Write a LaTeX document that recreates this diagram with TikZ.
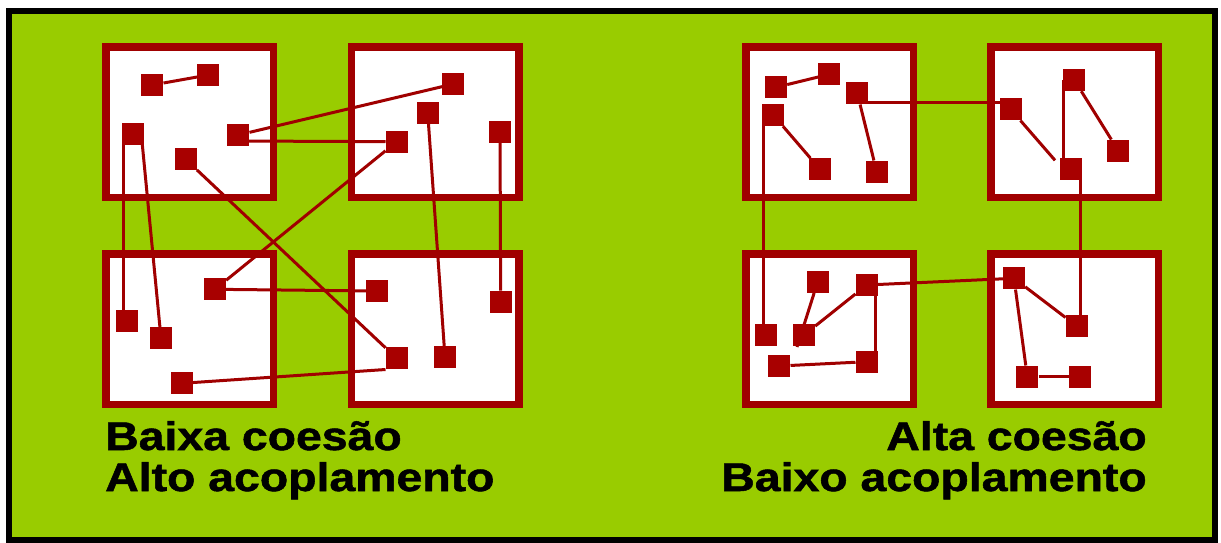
\documentclass[tikz,border=0pt]{standalone}
\usepackage{fontspec}
\setmainfont{Liberation Sans}
\newfontfamily\heavyfont{Liberation Sans}[BoldFeatures={FakeBold=1.2}]
\usetikzlibrary{calc}
\definecolor{bg}{RGB}{153,204,0}
\definecolor{dred}{RGB}{160,0,0}
\definecolor{sqred}{RGB}{168,0,0}
\pgfdeclarelayer{back}
\pgfdeclarelayer{mid}
\pgfsetlayers{back,mid,main}
\begin{document}
\begin{tikzpicture}[x=1pt,y=-1pt,
  box/.style={draw=dred,line width=7.5pt,fill=white,minimum width=167.5pt,minimum height=150.5pt,inner sep=0pt},
  sq/.style={fill=sqred,minimum size=22pt,inner sep=0pt},
  link/.style={draw=dred,line width=3pt},
  lbl/.style={font=\heavyfont\fontsize{40}{44}\selectfont\bfseries,inner sep=0pt,xscale=1.16,text=black}]
\useasboundingbox (0,0) rectangle (1221,542);
\begin{pgfonlayer}{back}
\fill[white] (0,0) rectangle (1221,542);
\draw[line width=6pt,fill=bg] (9,11) rectangle (1215,539.5);
% left boxes
\node[box] (LTL) at (189.5,122) {};
\node[box] (LTR) at (435,122) {};
\node[box] (LBL) at (189.5,329) {};
\node[box] (LBR) at (435,329) {};
% right boxes
\node[box] (RTL) at (829.5,122) {};
\node[box] (RTR) at (1074.5,122) {};
\node[box] (RBL) at (829.5,329) {};
\node[box] (RBR) at (1074.5,329) {};
\end{pgfonlayer}
% squares left
\node[sq] (A1) at (152.3,85) {};
\node[sq] (A2) at (208.3,75) {};
\node[sq] (A3) at (133.3,134) {};
\node[sq] (A4) at (238.3,135) {};
\node[sq] (A5) at (185.7,159.3) {};
\node[sq] (B1) at (453.3,84) {};
\node[sq] (B2) at (427.7,112.7) {};
\node[sq] (B3) at (396.7,141.7) {};
\node[sq] (B4) at (500,131.7) {};
\node[sq] (C1) at (215,289.3) {};
\node[sq] (C2) at (126.7,321) {};
\node[sq] (C3) at (161,338.3) {};
\node[sq] (C4) at (181.7,383.3) {};
\node[sq] (D1) at (377.3,291) {};
\node[sq] (D2) at (500.7,301.7) {};
\node[sq] (D3) at (396.7,358.3) {};
\node[sq] (D4) at (445,357.3) {};
% squares right
\node[sq] (E1) at (776,87.3) {};
\node[sq] (E2) at (829.3,74.3) {};
\node[sq] (E3) at (857.3,93.3) {};
\node[sq] (E4) at (773.3,115) {};
\node[sq] (E5) at (820,169.3) {};
\node[sq] (E6) at (876.7,171.7) {};
\node[sq] (F1) at (1074.3,80) {};
\node[sq] (F2) at (1010.7,109.3) {};
\node[sq] (F3) at (1118.3,150.7) {};
\node[sq] (F4) at (1071,169.3) {};
\node[sq] (G1) at (817.7,281.7) {};
\node[sq] (G2) at (866.7,285) {};
\node[sq] (G3) at (766,335) {};
\node[sq] (G4) at (804,335) {};
\node[sq] (G5) at (779.3,366) {};
\node[sq] (G6) at (866.7,361.7) {};
\node[sq] (H1) at (1014,278.3) {};
\node[sq] (H2) at (1076.7,326) {};
\node[sq] (H3) at (1027.3,376.7) {};
\node[sq] (H4) at (1080,376.7) {};
\begin{pgfonlayer}{mid}
% left connectors
\draw[link] (A1) -- (A2);
\draw[link] (A4) -- (B1);
\draw[link] ($(A4)+(0,6)$) -- (B3);
\draw[link] ($(A3)+(-10,0)$) -- ($(C2)+(-3.4,0)$);
\draw[link] ($(A3)+(8,0)$) -- (C3);
\draw[link] (A5) -- (D3);
\draw[link] (B3) -- (C1);
\draw[link] (C1) -- (D1);
\draw[link] (B2) -- (D4);
\draw[link] (B4) -- (D2);
\draw[link] (C4) -- (D3.south west);
% right connectors
\draw[link] (E1) -- (E2);
\draw[link] ($(E3)+(0,9.4)$) -- ($(F2)+(0,-6.6)$);
\draw[link] (E3) -- (E6);
\draw[link] (E4) -- (E5);
\draw[link] ($(E4)+(-10,0)$) -- ($(G3)+(-2.7,0)$);
\draw[link] (F1) -- (F3);
\draw[link] (F2) -- ($(F4)+(-16,-9)$);
\draw[link] ($(F1)+(-11,0)$) -- ($(F4)+(-7.7,0)$);
\draw[link] ($(F4)+(9,0)$) -- ($(H2)+(3.3,0)$);
\draw[link] (G1) -- ($(G4)+(-7,12)$);
\draw[link] (G2) -- (G4);
\draw[link] ($(G2)+(8.3,0)$) -- ($(G6)+(8.3,0)$);
\draw[link] (G5) -- (G6);
\draw[link] (G2) -- (H1);
\draw[link] (H1) -- (H2);
\draw[link] (H1) -- (H3);
\draw[link] (H3) -- (H4);
\end{pgfonlayer}
% labels
\node[lbl,anchor=base west] (t1) at (105,450) {Baixa coesão};
\node[lbl,anchor=base west] (t2) at (105,491) {Alto acoplamento};
\node[lbl,anchor=base east] (t3) at (1147,450) {Alta coesão};
\node[lbl,anchor=base east] (t4) at (1147,491) {Baixo acoplamento};
\end{tikzpicture}
\end{document}
